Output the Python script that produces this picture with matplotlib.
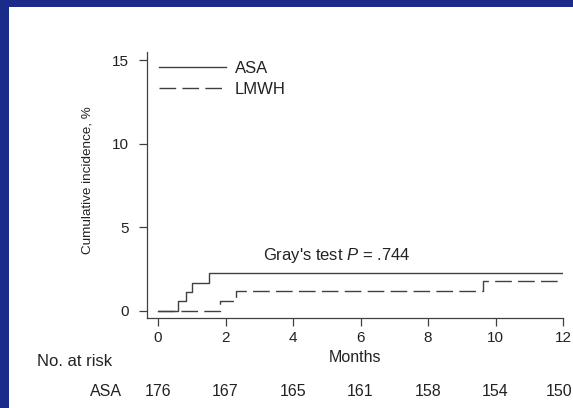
import matplotlib
matplotlib.use('Agg')
import matplotlib.pyplot as plt
from matplotlib.patches import Rectangle
import matplotlib.transforms as mtransforms

plt.rcParams['font.family'] = ['Liberation Sans', 'DejaVu Sans']
plt.rcParams['mathtext.fontset'] = 'custom'
plt.rcParams['mathtext.rm'] = 'Liberation Sans'
plt.rcParams['mathtext.it'] = 'Liberation Sans:italic'

# data
asa_t = [0, 0.60, 0.82, 1.02, 1.51, 12]
asa_y = [0, 0.57, 1.14, 1.70, 2.27, 2.27]
lmwh_t = [0, 1.84, 2.31, 9.62, 12]
lmwh_y = [0, 0.59, 1.18, 1.80, 1.80]
risk_months = [0, 2, 4, 6, 8, 10, 12]
asa_risk = [176, 167, 165, 161, 158, 154, 150]
xticks = [0, 2, 4, 6, 8, 10, 12]
yticks = [0, 5, 10, 15]

W, H = 573, 408
fig = plt.figure(figsize=(W / 100, H / 100), dpi=100)
fig.patch.set_facecolor('#1b2b8a')
fig.patches.append(Rectangle((9 / W, 0), 1, (H - 7) / H, transform=fig.transFigure,
                             facecolor='white', edgecolor='none', zorder=-10))

ax = fig.add_axes([147 / W, (H - 318) / H, (563 - 147) / W, (318 - 52) / H])
ax.set_zorder(5)
ax.patch.set_alpha(0)
col = '#404040'
tc = '#222222'
fs = 11.5

ax.step(asa_t, asa_y, where='post', color=col, lw=1.0, label='ASA')
ax.step(lmwh_t, lmwh_y, where='post', color=col, lw=1.0, dashes=(12, 4.5), label='LMWH')

ax.set_xlim(-0.326, 12)
ax.set_ylim(-0.42, 15.48)
ax.set_xticks(xticks)
ax.set_yticks(yticks)
for s in ['top', 'right']:
    ax.spines[s].set_visible(False)
for s in ['left', 'bottom']:
    ax.spines[s].set_color(col)
    ax.spines[s].set_linewidth(0.9)
ax.tick_params(axis='both', colors=col, labelcolor=tc, labelsize=11, length=6, width=0.9)
ax.tick_params(axis='y', pad=7)
ax.tick_params(axis='x', pad=3)

ax.set_ylabel('Cumulative incidence, %', fontsize=9.7, color=tc)
ax.yaxis.set_label_coords(-0.128, 0.519)
ax.set_xlabel('Months', fontsize=fs, color=tc, labelpad=4)

ax.legend(loc='upper left', bbox_to_anchor=(159 / W, (H - 61) / H), bbox_transform=fig.transFigure,
          frameon=False, fontsize=12, handlelength=4.0, handletextpad=0.55,
          labelspacing=0.35, borderpad=0, borderaxespad=0, labelcolor=tc)

ax.text(5.3, 3.3, "Gray's test $P$ = .744", ha='center', va='center', fontsize=12, color=tc)

trans = mtransforms.blended_transform_factory(ax.transData, fig.transFigure)
fig.text(37 / W, (H - 361) / H, 'No. at risk', ha='left', va='center', fontsize=12, color=tc)
fig.text(122 / W, (H - 392) / H, 'ASA', ha='right', va='center', fontsize=fs, color=tc)
for m, n in zip(risk_months[:-1], asa_risk[:-1]):
    ax.text(m, (H - 392) / H, str(n), transform=trans, ha='center', va='center',
            fontsize=fs, color=tc, clip_on=False)
# last count sits at the right edge of the slide
fig.text(572 / W, (H - 392) / H, str(asa_risk[-1]), ha='right', va='center', fontsize=fs, color=tc)

fig.savefig('out.png', dpi=100, facecolor=fig.get_facecolor())
